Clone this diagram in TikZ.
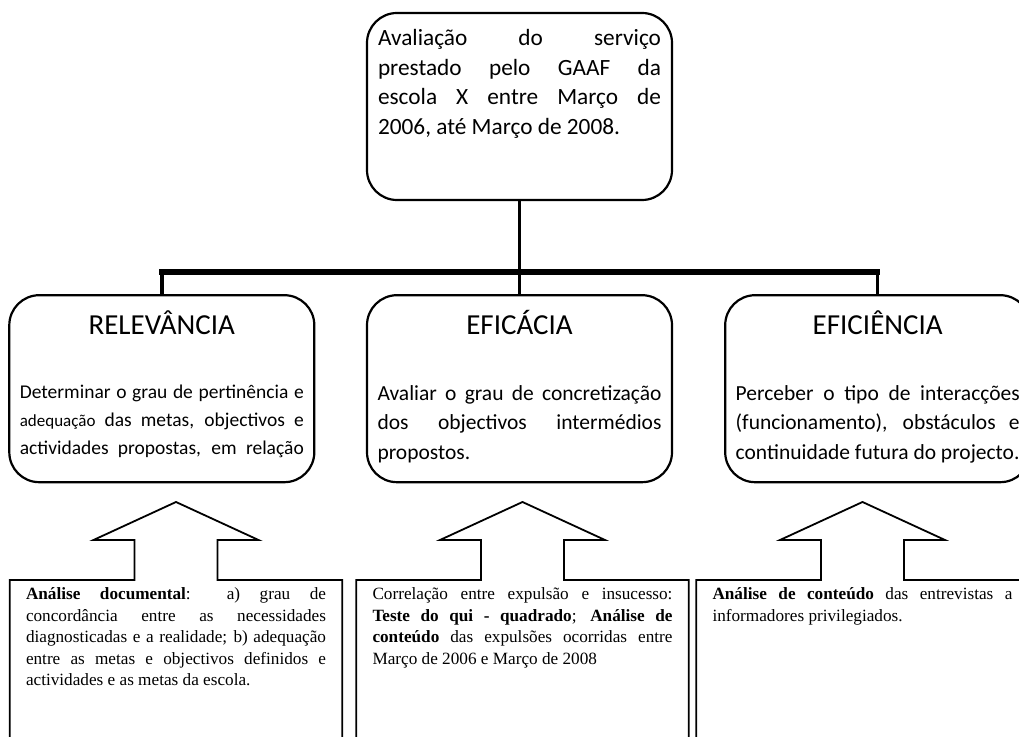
\documentclass[tikz,border=0pt]{standalone}
\usepackage{fontspec}
\setmainfont{Liberation Serif}
\newfontfamily\carlito{Carlito}
\usetikzlibrary{positioning}
\newcommand{\titulo}[2][36.5pt]{\makebox[\linewidth]{\fontsize{29}{29}\selectfont #2}\par\vspace{#1}}
\newcommand{\fimjust}{{\parfillskip=0pt\par}}

\begin{document}
\begin{tikzpicture}[x=1pt,y=1pt,
  caixa/.style={draw, line width=2.2pt, rounded corners=30pt, align=justify, inner ysep=0pt},
  topo/.style={caixa, text width=283pt, inner xsep=11pt, text height=33pt, text depth=154pt,
    font=\carlito\fontsize{23.3}{29.5}\selectfont},
  criterio/.style={caixa, text width=284pt, inner xsep=10.5pt, text height=39.3pt, text depth=147.7pt,
    font=\carlito\fontsize{21.5}{29.5}\selectfont},
  metodo/.style={anchor=north, text width=300pt, inner xsep=16pt, inner ysep=0pt,
    text height=19.5pt, text depth=180pt, align=justify, font=\fontsize{17.2}{21.5}\selectfont},
  contorno/.style={line width=1.8pt},
  haste/.style={line width=3.5pt},
  barra/.style={line width=5.5pt, line cap=rect}]
\useasboundingbox (0,0) rectangle (1019,736);
\clip (0,0) rectangle (1019,736);

% objecto da avaliacao
\node[topo] (avaliacao) at (519.5,629.5) {Avaliação do serviço\linebreak prestado pelo GAAF da\linebreak escola X entre Março de\linebreak 2006, até Março de 2008.};

% criterios
\node[criterio, below=93pt of avaliacao] (eficacia) {\titulo{EFICÁCIA}Avaliar o grau de concretização\linebreak dos objectivos intermédios\linebreak propostos.};
\node[criterio, left=50.5pt of eficacia] (relevancia) {\titulo[36.5pt]{RELEVÂNCIA}\fontsize{19.5}{28}\selectfont
  Determinar o grau de pertinência e\linebreak {\fontsize{17}{28}\selectfont adequação} das metas, objectivos e\linebreak actividades propostas, em relação\fimjust};
\node[criterio, right=51pt of eficacia] (eficiencia) {\titulo{EFICIÊNCIA}Perceber o tipo de interacções\linebreak (funcionamento), obstáculos e\linebreak continuidade futura do projecto.};

\coordinate (barra) at ([yshift=-71pt]avaliacao.south);
\draw[haste] (avaliacao.south) -- (avaliacao.south |- barra);
\foreach \c in {relevancia,eficacia,eficiencia}
  \draw[haste] (\c.north |- barra) -- (\c.north);
\draw[barra] (relevancia.north |- barra) -- (eficiencia.north |- barra);

% metodos
\node[metodo] (docum) at (176,156) {\textbf{Análise documental}: a) grau de\linebreak concordância entre as necessidades\linebreak diagnosticadas e a realidade; b) adequação\linebreak entre as metas e objectivos definidos e\linebreak actividades e as metas da escola.};
\node[metodo] (correl) at (522.5,156) {Correlação entre expulsão e insucesso:\linebreak \textbf{Teste do qui - quadrado}; \textbf{Análise de}\linebreak \textbf{conteúdo} das expulsões ocorridas entre\linebreak Março de 2006 e Março de 2008};
\node[metodo] (conteudo) at (862.5,156) {\textbf{Análise de conteúdo} das entrevistas a\linebreak informadores privilegiados.};

\foreach \m in {docum,correl,conteudo}
  \draw[contorno] (\m.south west) -- (\m.north west) -- ([xshift=-41.5pt]\m.north)
    -- ++(0,40) -- ++(-41,0) -- ++(82.5,38) -- ++(82.5,-38) -- ++(-41,0)
    -- ([xshift=41.5pt]\m.north) -- (\m.north east) -- (\m.south east);
\end{tikzpicture}
\end{document}
